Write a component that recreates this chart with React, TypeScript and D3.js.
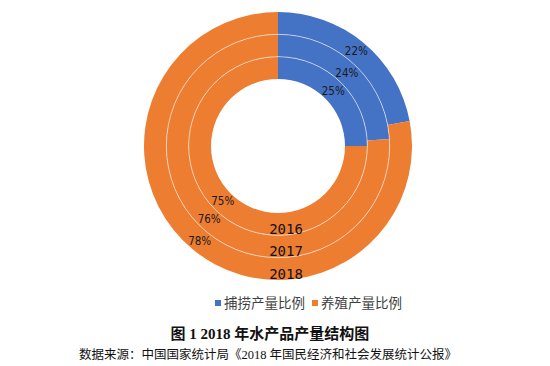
import { useEffect, useRef } from "react";
import * as d3 from "d3";

const years = ["2016", "2017", "2018"];
const seriesNames = ["捕捞产量比例", "养殖产量比例"];
const catchShare = [25, 24, 22];
const farmShare = [75, 76, 78];
const colors = ["#4472C4", "#ED7D31"];
const title = "图 1 2018 年水产品产量结构图";
const source = "数据来源：中国国家统计局《2018 年国民经济和社会发展统计公报》";

export default function App() {
    const chartRef = useRef<SVGSVGElement | null>(null);

    useEffect(() => {
        if (!chartRef.current) return;
        const width = 550;
        const height = 366;
        const cx = 278;
        const cy = 146;
        const innerR = 67;
        const outerR = 134;

        d3.select(chartRef.current).selectAll("*").remove();
        const svg = d3.select(chartRef.current)
            .attr("width", width)
            .attr("height", height)
            .style("position", "absolute")
            .style("left", "0px")
            .style("top", "0px");

        svg.append("rect").attr("width", width).attr("height", height).attr("fill", "#fff");

        // one ring per year, 2016 innermost
        const ring = d3.scaleBand<string>().domain(years).range([innerR, outerR]).padding(0);

        const g = svg.append("g").attr("transform", `translate(${cx},${cy})`);
        const pie = d3.pie<number>().sort(null).value((d) => d);

        years.forEach((year, i) => {
            const values = [catchShare[i], farmShare[i]];
            const r0 = ring(year)!;
            const r1 = r0 + ring.bandwidth();
            const arc = d3.arc<d3.PieArcDatum<number>>().innerRadius(r0).outerRadius(r1);
            const arcs = pie(values);

            g.selectAll(`path.y${year}`)
                .data(arcs)
                .enter()
                .append("path")
                .attr("class", `y${year}`)
                .attr("d", arc)
                .attr("fill", (d, j) => colors[j]);

            g.selectAll(`text.p${year}`)
                .data(arcs)
                .enter()
                .append("text")
                .attr("class", `p${year}`)
                .attr("transform", (d) => `translate(${arc.centroid(d)})`)
                .attr("text-anchor", "middle")
                .attr("dy", "0.35em")
                .attr("font-family", "'DejaVu Sans Condensed', 'DejaVu Sans', sans-serif")
                .attr("font-size", "11.5px")
                .attr("fill", "#1a1a1a")
                .text((d) => `${d.data}%`);
        });

        // thin white separators between rings
        ring.domain().slice(1).forEach((y) => {
            g.append("circle")
                .attr("r", ring(y)!)
                .attr("fill", "none")
                .attr("stroke", "#fff")
                .attr("stroke-opacity", 0.7)
                .attr("stroke-width", 0.8);
        });

        // year labels near the bottom of each ring
        years.forEach((year) => {
            g.append("text")
                .attr("x", 8)
                .attr("y", ring(year)! + ring.bandwidth() * 0.5 + 5)
                .attr("text-anchor", "middle")
                .attr("dy", "0.35em")
                .attr("font-family", "'DejaVu Sans Mono', monospace")
                .attr("font-size", "14px")
                .attr("fill", "#111")
                .text(year);
        });

        // legend
        const legend = svg.append("g").attr("transform", "translate(215,303)");
        const legendX = [0, 97];
        seriesNames.forEach((name, i) => {
            legend.append("rect")
                .attr("x", legendX[i])
                .attr("y", -3)
                .attr("width", 6)
                .attr("height", 6)
                .attr("fill", colors[i]);
            legend.append("text")
                .attr("x", legendX[i] + 9)
                .attr("y", 0)
                .attr("dy", "0.35em")
                .attr("font-family", "'Noto Sans CJK SC', sans-serif")
                .attr("font-size", "13.5px")
                .attr("fill", "#404040")
                .text(name);
        });

        svg.append("text")
            .attr("x", 270)
            .attr("y", 334)
            .attr("dy", "0.35em")
            .attr("text-anchor", "middle")
            .attr("font-family", "'Liberation Serif', 'Noto Sans CJK SC', serif")
            .attr("font-weight", "bold")
            .attr("font-size", "15px")
            .attr("fill", "#111")
            .text(title);

        svg.append("text")
            .attr("x", 268)
            .attr("y", 355)
            .attr("dy", "0.35em")
            .attr("text-anchor", "middle")
            .attr("font-family", "'Liberation Serif', 'Noto Sans CJK SC', serif")
            .attr("font-size", "12.5px")
            .attr("fill", "#111")
            .text(source);
    }, []);

    return <svg ref={(el) => { if (el) chartRef.current = el; }}></svg>;
}
